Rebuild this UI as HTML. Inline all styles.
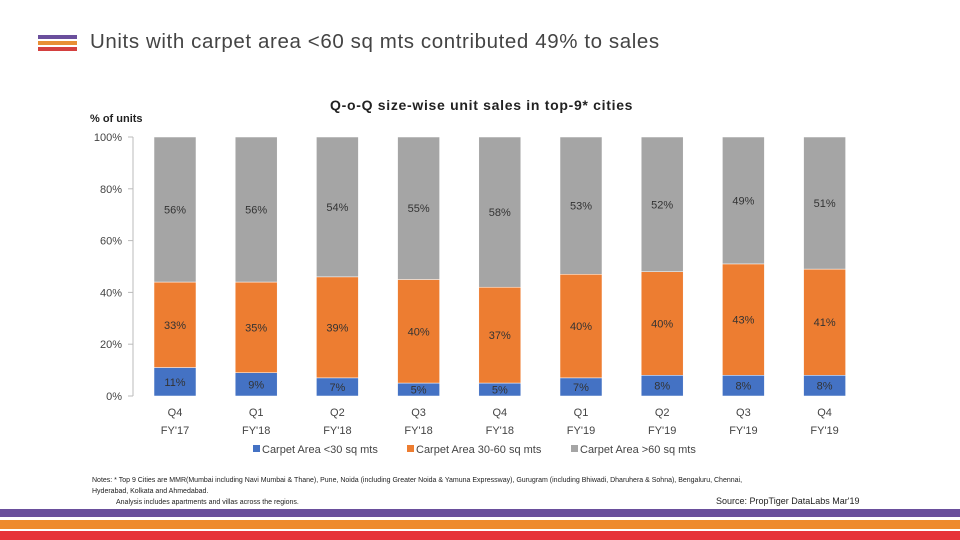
<!DOCTYPE html>
<html><head><meta charset="utf-8"><style>
body{margin:0;width:960px;height:540px;background:#fff;overflow:hidden;font-family:"Liberation Sans",sans-serif;position:relative}
.a{position:absolute}
</style></head><body>
<div class="a" style="left:38px;top:35px;width:39px">
<div style="height:4px;background:#6a4f9c"></div><div style="height:4px;margin-top:2px;background:#e88f35"></div><div style="height:4px;margin-top:2px;background:#d4403f"></div></div>
<div class="a" style="left:90px;top:30px;font-size:20.5px;letter-spacing:0.6px;color:#444">Units with carpet area &lt;60 sq mts contributed 49% to sales</div>
<svg class="a" style="left:0;top:0" width="960" height="540" id="ch"></svg>
<div class="a" style="left:92px;top:475px;font-size:7px;color:#222;line-height:11px;width:800px">Notes: * Top 9 Cities are MMR(Mumbai including Navi Mumbai &amp; Thane), Pune, Noida (including Greater Noida &amp; Yamuna Expressway), Gurugram (including Bhiwadi, Dharuhera &amp; Sohna), Bengaluru, Chennai,<br>Hyderabad, Kolkata and Ahmedabad.<br><span style="padding-left:24px">Analysis includes apartments and villas across the regions.</span></div>
<div class="a" style="left:716px;top:496px;font-size:9px;color:#222">Source: PropTiger DataLabs Mar'19</div>
<div class="a" style="left:0;top:509px;width:960px;height:8px;background:#6a4f9c"></div>
<div class="a" style="left:0;top:520px;width:960px;height:9px;background:#ee8a2e"></div>
<div class="a" style="left:0;top:531px;width:960px;height:9px;background:#e63439"></div>
<script>
const categories=["Q4|FY'17","Q1|FY'18","Q2|FY'18","Q3|FY'18","Q4|FY'18","Q1|FY'19","Q2|FY'19","Q3|FY'19","Q4|FY'19"];
const small=[11,9,7,5,5,7,8,8,8];
const mid=[33,35,39,40,37,40,40,43,41];
const large=[56,56,54,55,58,53,52,49,51];
const ticks=[0,20,40,60,80,100];
const seriesNames=["Carpet Area <30 sq mts","Carpet Area 30-60 sq mts","Carpet Area >60 sq mts"];
const colors=["#4472c4","#ed7d31","#a5a5a5"];
const svg=document.getElementById('ch');const NS='http://www.w3.org/2000/svg';
const y0=396,y1=137;const y=v=>y0-(y0-y1)*v/100;
const x=i=>175+i*81.2;const bw=42;
function el(t,a,txt){const e=document.createElementNS(NS,t);for(const k in a)e.setAttribute(k,a[k]);if(txt!==undefined)e.textContent=txt;svg.appendChild(e);return e;}
let t=el('text',{x:330,y:110,'font-size':14,'font-weight':'bold',fill:'#222','letter-spacing':'0.7'},'Q-o-Q size-wise unit sales in top-9* cities');


t=el('text',{x:90,y:122,'font-size':11,'font-weight':'bold',fill:'#222'},'% of units');


let ax=el('line',{x1:133,x2:133,y1:y(100),y2:y(0),stroke:'#bbb'});


ticks.forEach(v=>{
 let l=el('line',{x1:128,x2:133,y1:y(v),y2:y(v),stroke:'#bbb'});
 
 
 let tx=el('text',{x:122,y:y(v)+4,'font-size':11,fill:'#444','text-anchor':'end'},v+'%');
 
 
});
const data=[small,mid,large];
categories.forEach((c,i)=>{
 let base=0;
 data.forEach((s,k)=>{
  const v=s[i];
  let r=el('rect',{x:x(i)-bw/2,y:y(base+v),width:bw,height:y(base)-y(base+v),fill:colors[k],stroke:'#fff','stroke-width':0.5});
  
  
  let tx=el('text',{x:x(i),y:(y(base)+y(base+v))/2+4,'font-size':11,fill:'#333','text-anchor':'middle'},v+'%');
  
  
  base+=v;
 });
 const p=c.split('|');
 let a=el('text',{x:x(i),y:416,'font-size':11,fill:'#444','text-anchor':'middle'},p[0]);
 
 
 let b=el('text',{x:x(i),y:434,'font-size':11,fill:'#444','text-anchor':'middle'},p[1]);
 
 
});
const lx=[253,407,571];
seriesNames.forEach((n,k)=>{
 let r=el('rect',{x:lx[k],y:445,width:7,height:7,fill:colors[k]});
 
 
 let tx=el('text',{x:lx[k]+9,y:453,'font-size':11,fill:'#444'},n);
 
 
});
</script>
</body></html>
